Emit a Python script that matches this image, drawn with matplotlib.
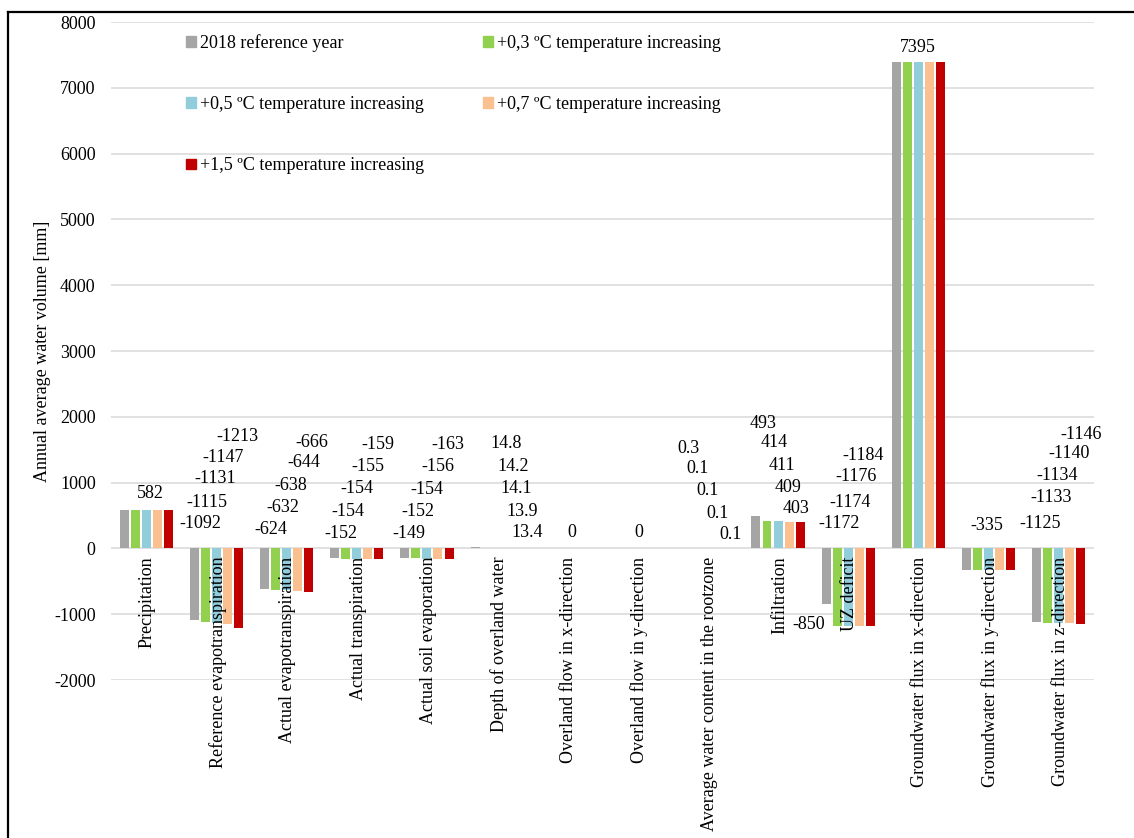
import numpy as np
import matplotlib
matplotlib.use("Agg")
import matplotlib.pyplot as plt
from matplotlib.patches import Patch
from matplotlib.lines import Line2D

plt.rcParams['font.family'] = ['Liberation Serif', 'DejaVu Serif']
plt.rcParams['axes.unicode_minus'] = False

# water balance components
categories = ['Precipitation', 'Reference evapotranspiration', 'Actual evapotranspiration',
              'Actual transpiration', 'Actual soil evaporation', 'Depth of overland water',
              'Overland flow in x-direction', 'Overland flow in y-direction',
              'Average water content in the rootzone', 'Infiltration', 'UZ deficit',
              'Groundwater flux in x-direction', 'Groundwater flux in y-direction',
              'Groundwater flux in z-direction']

scenarios = ['2018 reference year', '+0,3 ºC temperature increasing',
             '+0,5 ºC temperature increasing', '+0,7 ºC temperature increasing',
             '+1,5 ºC temperature increasing']
colors = ['#A5A5A5', '#92D050', '#92CDDC', '#FAC090', '#C00000']

ref_2018 = [582, -1092, -624, -152, -149, 14.8, 0, 0, 0.3, 493, -850, 7395, -335, -1125]
plus_03 = [582, -1115, -632, -154, -152, 14.2, 0, 0, 0.1, 414, -1172, 7395, -335, -1133]
plus_05 = [582, -1131, -638, -154, -154, 14.1, 0, 0, 0.1, 411, -1174, 7395, -335, -1134]
plus_07 = [582, -1147, -644, -155, -156, 13.9, 0, 0, 0.1, 409, -1176, 7395, -335, -1140]
plus_15 = [582, -1213, -666, -159, -163, 13.4, 0, 0, 0.1, 403, -1184, 7395, -335, -1146]
series = [ref_2018, plus_03, plus_05, plus_07, plus_15]

# where each data label sits: (x offset from category centre, y in mm), None = not shown
label_pos = {
    0: [(0.06, 837), None, None, None, None],
    1: [(-0.23, 380), (-0.13, 700), (-0.01, 1065), (0.10, 1384), (0.30, 1703)],
    2: [(-0.22, 289), (-0.06, 624), (0.06, 958), (0.25, 1308), (0.36, 1612)],
    3: [(-0.23, 228), (-0.13, 563), (0.00, 913), (0.16, 1247), (0.30, 1582)],
    4: [(-0.26, 228), (-0.13, 563), (0.00, 897), (0.16, 1247), (0.30, 1582)],
    5: [(0.13, 1597), (0.23, 1247), (0.27, 913), (0.36, 563), (0.43, 243)],
    6: [(0.06, 243), None, None, None, None],
    7: [(0.02, 243), None, None, None, None],
    8: [(-0.28, 1521), (-0.15, 1217), (-0.01, 882), (0.14, 532), (0.33, 213)],
    9: [(-0.21, 1901), (-0.06, 1612), (0.06, 1262), (0.14, 928), (0.26, 608)],
    10: [(-0.56, -1156), (-0.13, 380), (0.03, 700), (0.11, 1095), (0.21, 1414)],
    11: [(-0.01, 7620), None, None, None, None],
    12: [(-0.02, 350), None, None, None, None],
    13: [(-0.27, 380), (-0.11, 776), (-0.03, 1110), (0.14, 1445), (0.31, 1734)],
}

fig = plt.figure(figsize=(11.34, 8.38), dpi=100)
ax = fig.add_axes([0.0979, 0.1885, 0.8668, 0.7852])

x = np.arange(len(categories))
pitch = 0.157
width = 0.128
for k, vals in enumerate(series):
    ax.bar(x + (k - 2) * pitch, vals, width, color=colors[k], zorder=2)

for i in range(len(categories)):
    for k, pos in enumerate(label_pos[i]):
        if pos is None:
            continue
        ax.text(i + pos[0], pos[1], f"{series[k][i]:g}", ha='center', va='center',
                fontsize=13, zorder=3)
    ax.annotate(categories[i], xy=(i, 0), xytext=(1, -6), textcoords='offset points',
                rotation=90, ha='center', va='top', fontsize=13, zorder=3,
                annotation_clip=False)

ax.set_xlim(-0.5, len(categories) - 0.5)
ax.set_ylim(-2000, 8000)
ax.set_yticks(np.arange(-2000, 8001, 1000))
ax.set_xticks([])
ax.yaxis.grid(True, color='#D9D9D9', linewidth=1.1, zorder=0)
ax.set_axisbelow(True)
for s in ax.spines.values():
    s.set_visible(False)
ax.tick_params(axis='y', length=0, pad=11, labelsize=13)
ax.set_ylabel('Annual average water volume [mm]', fontsize=13, labelpad=6)
ax.yaxis.set_label_coords(-0.061, 0.5)

# legend: three rows, two columns, filled row by row
handles = [Patch(color=c) for c in colors]
order = [0, 2, 4, 1, 3]
fig.legend([handles[j] for j in order], [scenarios[j] for j in order],
           ncol=2, loc='upper left', bbox_to_anchor=(186 / 1134, 1 - 34 / 838),
           frameon=False, fontsize=13, handlelength=0.55, handleheight=0.55,
           handletextpad=0.2, labelspacing=2.45, columnspacing=3.3,
           borderpad=0, borderaxespad=0)

# outer frame
fig.add_artist(Line2D([8 / 1134, 1.0], [1 - 12 / 838] * 2, color='black', lw=1.6,
                      transform=fig.transFigure))
fig.add_artist(Line2D([8 / 1134] * 2, [0.0, 1 - 12 / 838], color='black', lw=1.6,
                      transform=fig.transFigure))

fig.savefig('out.png', dpi=100)
